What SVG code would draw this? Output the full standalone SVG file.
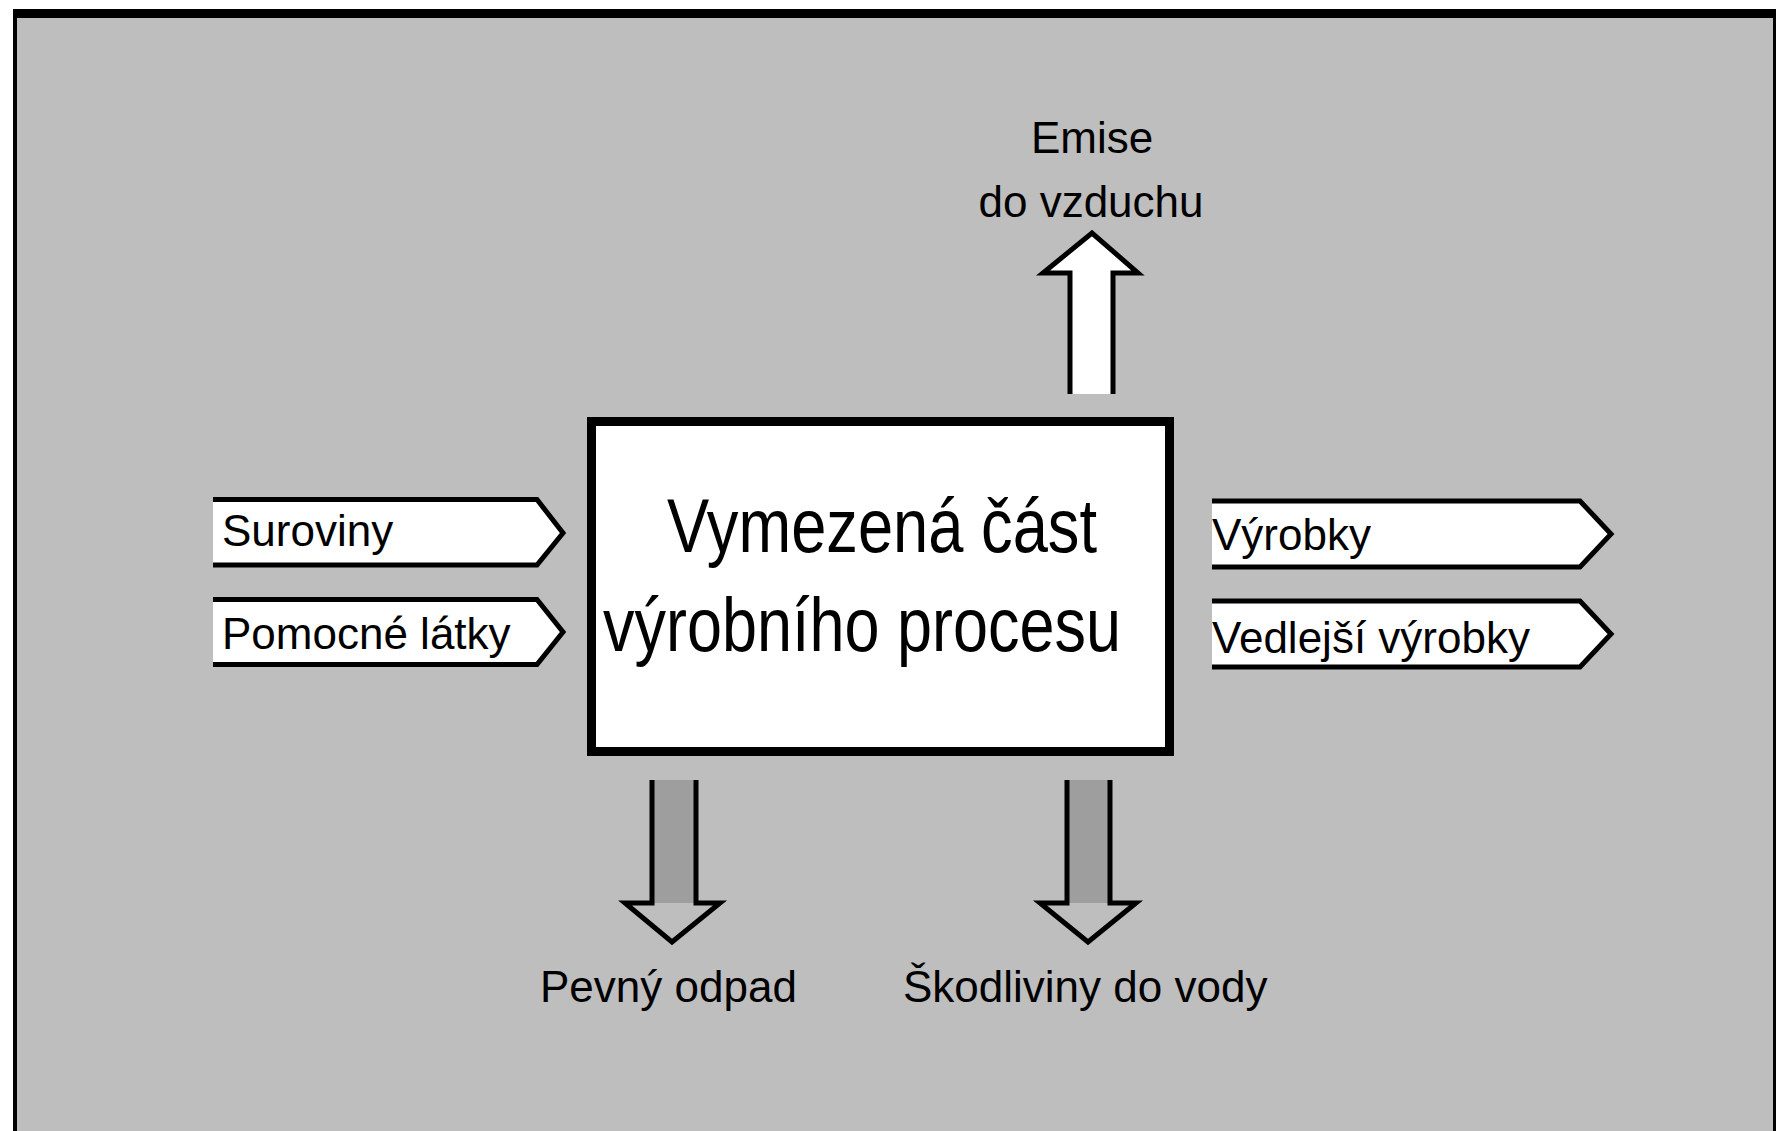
<svg xmlns="http://www.w3.org/2000/svg" width="1776" height="1131" viewBox="0 0 1776 1131">
  <style>
    .lbl { font-family: "Liberation Sans", Arial, sans-serif; font-size: 44px; fill: #000; }
    .main { font-family: "Liberation Sans", Arial, sans-serif; font-size: 76px; fill: #000; }
    .flow { fill: #fff; stroke: #000; stroke-width: 5; stroke-linejoin: miter; }
    .blk { fill: none; stroke: #000; stroke-width: 5; stroke-linejoin: miter; }
  </style>
  <rect x="0" y="0" width="1776" height="1131" fill="#fff"/>
  <rect id="background" x="17" y="18" width="1759" height="1113" fill="#bebebe"/>
  <rect x="13" y="9" width="1763" height="9" fill="#000"/>
  <rect x="13" y="9" width="4" height="1122" fill="#000"/>
  <rect x="1773" y="9" width="3" height="1122" fill="#000"/>

  <g id="process">
    <rect x="591.5" y="421.5" width="578" height="330" fill="#fff" stroke="#000" stroke-width="9"/>
    <text class="main" x="667" y="552" textLength="430" lengthAdjust="spacingAndGlyphs">Vymezená část</text>
    <text class="main" x="603" y="651" textLength="518" lengthAdjust="spacingAndGlyphs">výrobního procesu</text>
  </g>

  <g id="in-suroviny">
    <path class="flow" d="M213,499.5 H537 L563,533 L537,565 H213"/>
    <text class="lbl" x="222" y="546">Suroviny</text>
  </g>
  <g id="in-pomocne">
    <path class="flow" d="M213,599.5 H537 L563,632 L537,664.5 H213"/>
    <text class="lbl" x="222" y="649">Pomocné látky</text>
  </g>

  <g id="out-vyrobky">
    <path class="flow" d="M1212,501 H1580 L1611,534 L1580,567 H1212"/>
    <text class="lbl" x="1212" y="550">Výrobky</text>
  </g>
  <g id="out-vedlejsi">
    <path class="flow" d="M1212,601 H1580 L1611,634 L1580,667 H1212"/>
    <text class="lbl" x="1212" y="653">Vedlejší výrobky</text>
  </g>

  <g id="connectors">
    <path class="flow" d="M1070,394 V273 H1043 L1092,233 L1138,273 H1113 V394"/>
    <rect x="652" y="780" width="44" height="123" fill="#9e9e9e"/>
    <path class="blk" d="M652,780 V903 H625 L672,942 L720,903 H696 V780"/>
    <rect x="1067" y="780" width="43" height="123" fill="#9e9e9e"/>
    <path class="blk" d="M1067,780 V903 H1040 L1088,942 L1136,903 H1110 V780"/>
  </g>

  <g id="label-emise">
    <text class="lbl" x="1092" y="153" text-anchor="middle">Emise</text>
    <text class="lbl" x="1091" y="217" text-anchor="middle">do vzduchu</text>
  </g>
  <g id="label-pevny">
    <text class="lbl" x="540" y="1002">Pevný odpad</text>
  </g>
  <g id="label-skodliviny">
    <text class="lbl" x="903" y="1002">Škodliviny do vody</text>
  </g>
</svg>
